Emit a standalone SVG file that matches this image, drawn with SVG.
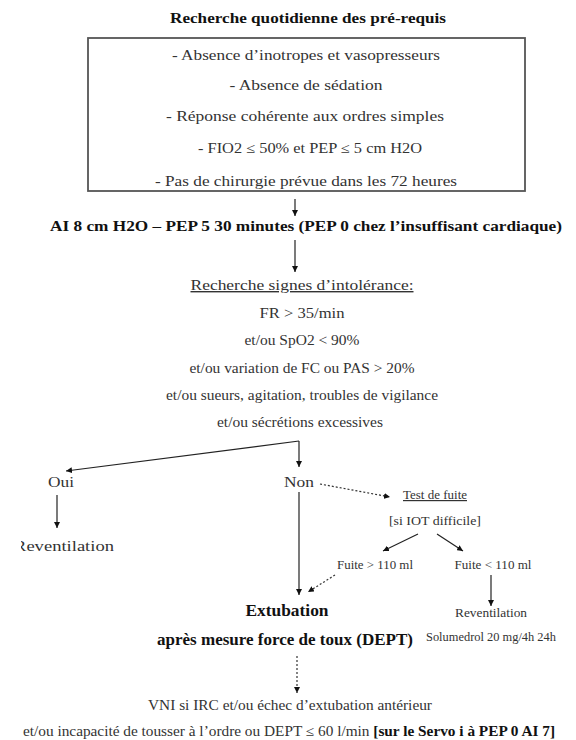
<svg xmlns="http://www.w3.org/2000/svg" width="576" height="740" viewBox="0 0 576 740">
<style>
text{font-family:"Liberation Serif","Times New Roman",serif;fill:#333;}
.b{font-weight:bold;fill:#111;}
.n{font-size:14px;}
.s{font-size:12px;}
.u{text-decoration:underline;}
.ln{stroke:#222;stroke-width:1.2;fill:none;}
.dt{stroke:#333;stroke-width:1.2;fill:none;stroke-dasharray:2,2;}
</style>
<defs>
<marker id="ah" markerUnits="userSpaceOnUse" markerWidth="6" markerHeight="6" refX="6" refY="3" orient="auto">
<path d="M0,0 L6,3 L0,6 z" fill="#111"/>
</marker>
<clipPath id="clipL"><rect x="21" y="0" width="555" height="740"/></clipPath>
</defs>
<rect width="576" height="740" fill="#fff"/>

<g id="title">
<text class="b" x="308" y="23" font-size="15" text-anchor="middle" textLength="276" lengthAdjust="spacingAndGlyphs">Recherche quotidienne des pré-requis</text>
</g>

<g id="prerequis">
<rect x="88" y="38" width="437" height="153" fill="none" stroke="#555" stroke-width="1.8"/>
<text class="n" x="306" y="60" text-anchor="middle" textLength="268" lengthAdjust="spacingAndGlyphs">- Absence d’inotropes et vasopresseurs</text>
<text class="n" x="306" y="90" text-anchor="middle" textLength="153" lengthAdjust="spacingAndGlyphs">- Absence de sédation</text>
<text class="n" x="305" y="121" text-anchor="middle" textLength="278" lengthAdjust="spacingAndGlyphs">- Réponse cohérente aux ordres simples</text>
<text class="n" x="310" y="153" text-anchor="middle" textLength="224" lengthAdjust="spacingAndGlyphs">- FIO2 ≤ 50% et PEP ≤ 5 cm H2O</text>
<text class="n" x="306" y="186" text-anchor="middle" textLength="302" lengthAdjust="spacingAndGlyphs">- Pas de chirurgie prévue dans les 72 heures</text>
</g>

<g id="ai">
<text class="b" x="306" y="231" font-size="15" text-anchor="middle" textLength="512" lengthAdjust="spacingAndGlyphs">AI 8 cm H2O – PEP 5  30 minutes (PEP 0 chez l’insuffisant cardiaque)</text>
</g>

<g id="intolerance">
<text class="n u" x="302" y="290" text-anchor="middle" textLength="223" lengthAdjust="spacingAndGlyphs">Recherche signes d’intolérance:</text>
<text class="n" x="302" y="318" text-anchor="middle" textLength="85" lengthAdjust="spacingAndGlyphs">FR &gt; 35/min</text>
<text class="n" x="302" y="345" text-anchor="middle" textLength="115" lengthAdjust="spacingAndGlyphs">et/ou SpO2 &lt; 90%</text>
<text class="n" x="302" y="373" text-anchor="middle" textLength="225" lengthAdjust="spacingAndGlyphs">et/ou variation de FC ou PAS &gt; 20%</text>
<text class="n" x="302" y="400" text-anchor="middle" textLength="272" lengthAdjust="spacingAndGlyphs">et/ou sueurs, agitation, troubles de vigilance</text>
<text class="n" x="300" y="427" text-anchor="middle" textLength="166" lengthAdjust="spacingAndGlyphs">et/ou sécrétions excessives</text>
</g>

<g id="oui">
<text class="n" x="61" y="487" text-anchor="middle" textLength="26" lengthAdjust="spacingAndGlyphs">Oui</text>
</g>
<g id="non">
<text class="n" x="299" y="487" text-anchor="middle" textLength="30" lengthAdjust="spacingAndGlyphs">Non</text>
</g>
<g id="reventilation-oui" clip-path="url(#clipL)">
<text x="14" y="551" font-size="15" textLength="100" lengthAdjust="spacingAndGlyphs">Reventilation</text>
</g>

<g id="test-fuite">
<text class="s u" x="435" y="499" text-anchor="middle" textLength="64" lengthAdjust="spacingAndGlyphs">Test de fuite</text>
<text class="s" x="435" y="525" text-anchor="middle" textLength="92" lengthAdjust="spacingAndGlyphs">[si IOT difficile]</text>
</g>
<g id="fuite-sup">
<text class="s" x="375" y="569" text-anchor="middle" textLength="76" lengthAdjust="spacingAndGlyphs">Fuite &gt; 110 ml</text>
</g>
<g id="fuite-inf">
<text class="s" x="493" y="569" text-anchor="middle" textLength="77" lengthAdjust="spacingAndGlyphs">Fuite &lt; 110 ml</text>
</g>
<g id="reventilation-fuite">
<text class="s" x="491" y="617" text-anchor="middle" textLength="72" lengthAdjust="spacingAndGlyphs">Reventilation</text>
<text class="s" x="491" y="641" text-anchor="middle" textLength="130" lengthAdjust="spacingAndGlyphs">Solumedrol 20 mg/4h 24h</text>
</g>

<g id="extubation">
<text class="b" x="287" y="616" font-size="17" text-anchor="middle" textLength="83" lengthAdjust="spacingAndGlyphs">Extubation</text>
<text class="b" x="285" y="645" font-size="16" text-anchor="middle" textLength="256" lengthAdjust="spacingAndGlyphs">après mesure force de toux (DEPT)</text>
</g>

<g id="vni">
<text class="n" x="290" y="710" text-anchor="middle" textLength="284" lengthAdjust="spacingAndGlyphs">VNI si IRC et/ou échec d’extubation antérieur</text>
<text class="n" x="23" y="736" textLength="532" lengthAdjust="spacingAndGlyphs">et/ou incapacité de tousser à l’ordre ou DEPT ≤ 60 l/min <tspan class="b">[sur le Servo i à PEP 0 AI 7]</tspan></text>
</g>

<g id="connectors">
<line class="ln" x1="295" y1="199" x2="295" y2="216" marker-end="url(#ah)"/>
<line class="ln" x1="295" y1="240" x2="295" y2="272" marker-end="url(#ah)"/>
<line class="ln" x1="299" y1="441" x2="66" y2="471" marker-end="url(#ah)"/>
<line class="ln" x1="299" y1="441" x2="299" y2="467" marker-end="url(#ah)"/>
<line class="ln" x1="57" y1="495" x2="57" y2="528" marker-end="url(#ah)"/>
<line class="dt" x1="320" y1="484" x2="390" y2="497" marker-end="url(#ah)"/>
<line class="ln" x1="299" y1="492" x2="299" y2="595" marker-end="url(#ah)"/>
<line class="ln" x1="418" y1="534" x2="383" y2="551" marker-end="url(#ah)"/>
<line class="ln" x1="437" y1="534" x2="463" y2="551" marker-end="url(#ah)"/>
<line class="dt" x1="335" y1="575" x2="308" y2="592" marker-end="url(#ah)"/>
<line class="ln" x1="491" y1="575" x2="491" y2="606" marker-end="url(#ah)"/>
<line class="dt" x1="297" y1="656" x2="297" y2="693" marker-end="url(#ah)"/>
</g>
</svg>
